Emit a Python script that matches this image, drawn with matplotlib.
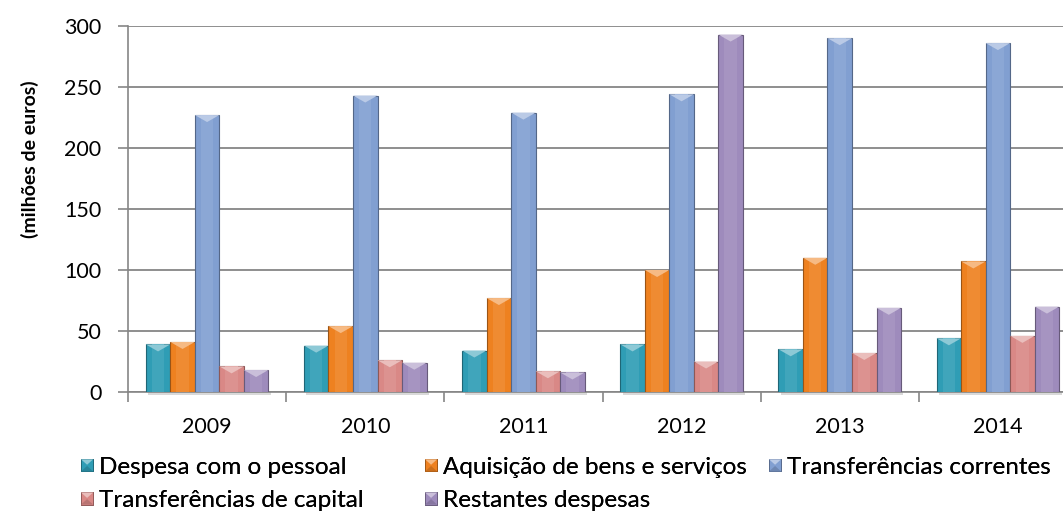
import numpy as np
import matplotlib
matplotlib.use("Agg")
import matplotlib.pyplot as plt
from matplotlib.patches import Polygon, Patch
from matplotlib.legend_handler import HandlerPatch
import matplotlib.colors as mcolors

years = ["2009", "2010", "2011", "2012", "2013", "2014"]
series_names = ["Despesa com o pessoal", "Aquisição de bens e serviços",
                "Transferências correntes", "Transferências de capital",
                "Restantes despesas"]
despesa_pessoal = [39, 38, 34, 39, 35, 44]
aquisicao_bens = [41, 54, 77, 100, 110, 107]
transf_correntes = [227, 243, 229, 244, 290, 286]
transf_capital = [21, 26, 17, 25, 32, 46]
restantes = [18, 24, 16, 293, 69, 70]
series_values = [despesa_pessoal, aquisicao_bens, transf_correntes,
                 transf_capital, restantes]
colors = ["#2f9db5", "#ee8120", "#819fd1", "#d98886", "#9e8bbc"]

y_label = "(milhões de euros)"

plt.rcParams['font.family'] = ['Lato', 'DejaVu Sans']
TICK_FS = 15.5
LEG_FS = 17.5


def lighten(c, amt):
    r, g, b = mcolors.to_rgb(c)
    return (r + (1 - r) * amt, g + (1 - g) * amt, b + (1 - b) * amt)


def darken(c, amt):
    r, g, b = mcolors.to_rgb(c)
    return (r * (1 - amt), g * (1 - amt), b * (1 - amt))


class BevelHandler(HandlerPatch):
    def create_artists(self, legend, orig_handle, xdescent, ydescent,
                       width, height, fontsize, trans):
        c = orig_handle.get_facecolor()
        s = min(width, height)
        x0 = -xdescent + (width - s) / 2
        y0 = -ydescent + (height - s) / 2
        rect = plt.Rectangle((x0, y0), s, s, facecolor=c,
                             edgecolor=darken(c, 0.35), lw=0.6, transform=trans)
        top = Polygon([(x0, y0 + s), (x0 + s, y0 + s), (x0 + s / 2, y0 + s * 0.55)],
                      closed=True, facecolor=lighten(c, 0.45), lw=0, transform=trans)
        bot = Polygon([(x0, y0), (x0 + s, y0), (x0 + s / 2, y0 + s * 0.45)],
                      closed=True, facecolor=darken(c, 0.15), lw=0, transform=trans)
        return [rect, top, bot]


def main():
    fig = plt.figure(figsize=(10.63, 5.11), dpi=100)
    ax = fig.add_axes([128 / 1063, 1 - 392 / 511, 949 / 1063, 366 / 511])

    x = np.arange(len(years))
    n = len(series_values)
    width = 0.155
    px_per_unit = 366 / 300.0
    tri_h = 7 / px_per_unit

    for i, (vals, c) in enumerate(zip(series_values, colors)):
        offs = (i - (n - 1) / 2) * width
        bars = ax.bar(x + offs, vals, width, color=c, edgecolor=darken(c, 0.35),
                      linewidth=0.8, zorder=3)
        for b in bars:
            bx, bw, bh = b.get_x(), b.get_width(), b.get_height()
            # lighter centre stripe to mimic the cylinder shading
            ax.add_patch(plt.Rectangle((bx + bw * 0.25, 0), bw * 0.5, bh,
                                       facecolor=lighten(c, 0.08), lw=0, zorder=3.1))
            # bevelled top
            ax.add_patch(Polygon([(bx, bh), (bx + bw, bh), (bx + bw / 2, bh - tri_h)],
                                 closed=True, facecolor=lighten(c, 0.45), lw=0,
                                 zorder=3.2))
            # soft shadow at the base
            ax.add_patch(plt.Rectangle((bx + bw * 0.1, -2.5), bw, 2.5,
                                       facecolor="#d9d9d9", lw=0, zorder=2,
                                       clip_on=False))

    ax.set_xlim(-0.5, len(years) - 0.5)
    ax.set_ylim(0, 300)
    ax.set_yticks(np.arange(0, 301, 50))
    ax.yaxis.grid(True, color="#868686", linewidth=1.3, zorder=0)
    ax.set_axisbelow(True)

    ax.set_xticks(x)
    ax.set_xticklabels(years)
    ax.set_xticks(np.arange(-0.5, len(years), 1), minor=True)
    ax.tick_params(axis="x", which="major", length=0, pad=18, labelsize=TICK_FS)
    ax.tick_params(axis="x", which="minor", length=7, width=1.2, color="#868686")
    ax.tick_params(axis="y", length=7, width=1.2, color="#868686", labelsize=TICK_FS,
                   pad=12)

    for side in ["top", "right"]:
        ax.spines[side].set_visible(False)
    ax.spines["left"].set_color("#868686")
    ax.spines["bottom"].set_color("#868686")
    ax.spines["left"].set_linewidth(1.2)
    ax.spines["bottom"].set_linewidth(1.2)

    fig.text(30 / 1063, 1 - 159 / 511, y_label, rotation=90, ha="center",
             va="center", fontsize=14, fontweight="bold")

    handles = [Patch(facecolor=c, label=name) for c, name in zip(colors, series_names)]
    # Excel lays the legend out in equal-width columns: one legend per column
    columns = [([0, 3], 81), ([1, 4], 425), ([2], 769)]
    for idx, left in columns:
        leg = fig.legend(handles=[handles[k] for k in idx], loc="upper left",
                         bbox_to_anchor=(left / 1063, 1 - 457 / 511), ncol=1,
                         frameon=False, fontsize=LEG_FS, handlelength=0.5,
                         handleheight=0.5, handletextpad=0.25, labelspacing=0.5,
                         borderaxespad=0, borderpad=0,
                         handler_map={Patch: BevelHandler()})
        fig.add_artist(leg)

    fig.savefig("out.png", dpi=100)


if __name__ == '__main__':
    main()
